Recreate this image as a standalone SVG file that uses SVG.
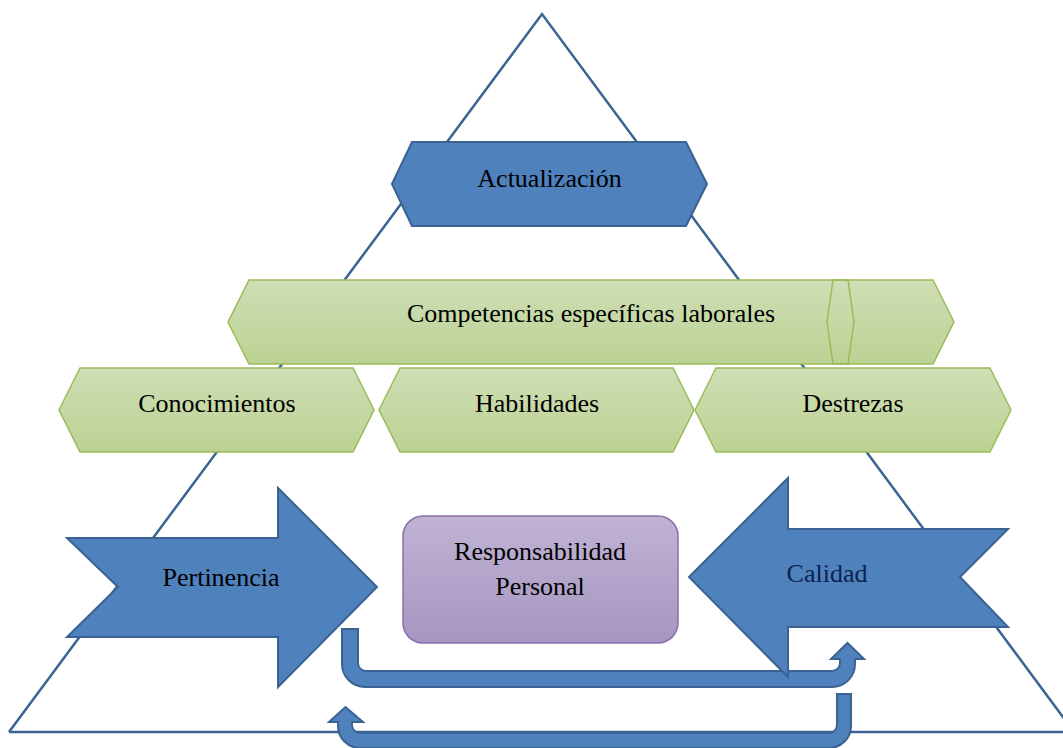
<svg xmlns="http://www.w3.org/2000/svg" width="1063" height="748" viewBox="0 0 1063 748">
<defs>
<linearGradient id="gGreen" x1="0" y1="0" x2="0" y2="1">
<stop offset="0" stop-color="#cfdeb5"/>
<stop offset="1" stop-color="#bcd293"/>
</linearGradient>
<linearGradient id="gPurple" x1="0" y1="0" x2="0" y2="1">
<stop offset="0" stop-color="#c0b3d4"/>
<stop offset="1" stop-color="#a696c1"/>
</linearGradient>
<style>
.tri{fill:none;stroke:#3b6393;stroke-width:2.5}
.green{fill:url(#gGreen);stroke:#9bbb59;stroke-width:1.5}
.blue{fill:#4f81bd;stroke:#3a6393;stroke-width:2}
.purple{fill:url(#gPurple);stroke:#8a6fae;stroke-width:1.5}
.t{font-family:"Liberation Serif","Times New Roman",serif;font-size:26px;fill:#000;text-anchor:middle}
</style>
</defs>
<rect width="1063" height="748" fill="#ffffff"/>
<g id="triangle">
<polyline class="tri" points="9,732 542,14 1074,732"/>
<line class="tri" x1="9" y1="732" x2="1063" y2="732"/>
</g>
<g id="connectors">
<path class="blue" d="M342,629 L342,664 A23,23 0 0 0 365,687 L832,687 A23,23 0 0 0 855,664 L855,659 L864,659 L847.5,643 L831,659 L840,659 L840,663 A8,8 0 0 1 832,671 L366,671 A8,8 0 0 1 358,663 L358,629 Z"/>
<path class="blue" d="M851,694 L851,726 A22,22 0 0 1 829,748 L360,748 A22,22 0 0 1 338,726 L338,722 L329,722 L345.5,707 L363,722 L352,722 L352,725 A8,8 0 0 0 360,733 L829,733 A8,8 0 0 0 837,725 L837,694 Z"/>
</g>
<g id="actualizacion">
<polygon class="blue" points="392,184 412,142 686,142 707,184 686,226 412,226"/>
<text class="t" x="549.5" y="187">Actualización</text>
</g>
<g id="competencias">
<polygon class="green" points="228,322 249,280 933,280 954,322 933,364 249,364"/>
<polygon fill="none" stroke="#9bbb59" stroke-width="1.5" points="833,280 848,280 854,322 848,364 833,364 827,322"/>
<text class="t" x="591" y="322">Competencias específicas laborales</text>
</g>
<g id="conocimientos">
<polygon class="green" points="59,410 80,368 353,368 374,410 353,452 80,452"/>
<text class="t" x="217" y="412">Conocimientos</text>
</g>
<g id="habilidades">
<polygon class="green" points="379,410 400,368 673,368 694,410 673,452 400,452"/>
<text class="t" x="537" y="412">Habilidades</text>
</g>
<g id="destrezas">
<polygon class="green" points="695,410 716,368 990,368 1011,410 990,452 716,452"/>
<text class="t" x="853" y="412">Destrezas</text>
</g>
<g id="pertinencia">
<polygon class="blue" points="67,538 278,538 278,488 377,587 278,687 278,637 67,637 118,587"/>
<text class="t" x="221" y="586">Pertinencia</text>
</g>
<g id="responsabilidad">
<rect class="purple" x="403" y="516" width="275" height="127" rx="20" ry="20"/>
<text class="t" x="540" y="560">Responsabilidad</text>
<text class="t" x="540" y="595">Personal</text>
</g>
<g id="calidad">
<polygon class="blue" points="689,577 788,478 788,529 1008,529 960,577 1008,627 788,627 788,677"/>
<text class="t" x="827" y="582" style="fill:#0c2150">Calidad</text>
</g>
</svg>
